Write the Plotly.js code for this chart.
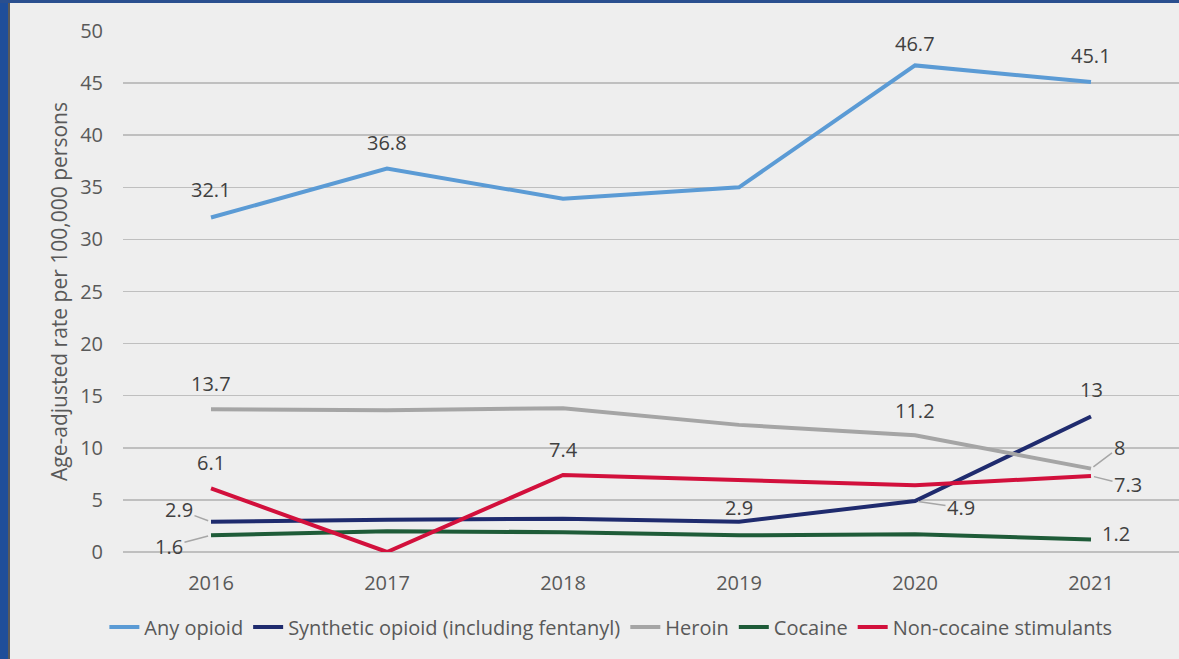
<!DOCTYPE html>
<html>
<head>
<meta charset="utf-8">
<script src="https://cdn.plot.ly/plotly-3.0.1.min.js"></script>
<style>
  html, body { margin: 0; padding: 0; background: #eeeeee; }
  #wrap { position: relative; width: 1179px; height: 659px; overflow: hidden; }
  #chart { position: absolute; left: 0; top: 0; width: 1179px; height: 659px; }
  #bl { position: absolute; left: 0; top: 0; width: 8px; height: 659px; background: #1f4e9a; }
  #bl2 { position: absolute; left: 8px; top: 0; width: 2px; height: 659px; background: #5a5a5a; }
  #bt { position: absolute; left: 0; top: 0; width: 1179px; height: 3px; background: #2a4f8f; }
</style>
</head>
<body>
<div id="wrap">
  <div id="chart"></div>
  <div id="bl"></div>
  <div id="bl2"></div>
  <div id="bt"></div>
</div>
<script>
// ---- data ----
const years = ["2016", "2017", "2018", "2019", "2020", "2021"];
const anyOpioid = [32.1, 36.8, 33.9, 35.0, 46.7, 45.1];
const syntheticOpioid = [2.9, 3.1, 3.2, 2.9, 4.9, 13];
const heroin = [13.7, 13.6, 13.8, 12.2, 11.2, 8];
const cocaine = [1.6, 2.0, 1.9, 1.6, 1.7, 1.2];
const nonCocaineStimulants = [6.1, 0, 7.4, 6.9, 6.4, 7.3];
const seriesNames = ["Any opioid", "Synthetic opioid (including fentanyl)", "Heroin", "Cocaine", "Non-cocaine stimulants"];
const yTicks = [0, 5, 10, 15, 20, 25, 30, 35, 40, 45, 50];

// ---- styling ----
const seriesData = [anyOpioid, syntheticOpioid, heroin, cocaine, nonCocaineStimulants];
const colors = ["#5b9bd5", "#1f2b6e", "#a5a5a5", "#1e5b38", "#d2103c"];
const FONT = "'Open Sans', sans-serif";
const FS = 20;

const traces = seriesData.map((vals, i) => ({
  x: years, y: vals, name: seriesNames[i], type: "scatter", mode: "lines",
  line: { color: colors[i], width: 4 }, hoverinfo: "skip"
}));

// label placements: [series, point index, dx, dy, leader]
const labelSpec = [
  [0, 0, 0, -28, false], [0, 1, 0, -26, false], [0, 4, 0, -22, false], [0, 5, 0, -27, false],
  [2, 0, 0, -26, false], [2, 4, 0, -25, false], [2, 5, 28, -21, true],
  [1, 0, -32, -12, true], [1, 3, 0, -14, false], [1, 4, 46, 7, true], [1, 5, 0, -27, false],
  [3, 0, -42, 11, true], [3, 5, 25, -6, false],
  [4, 0, 0, -26, false], [4, 2, 0, -25, false], [4, 5, 37, 9, true]
];

const annotations = labelSpec.map(([s, p, dx, dy, leader]) => {
  const a = {
    x: p, y: seriesData[s][p], xref: "x", yref: "y",
    text: String(seriesData[s][p]),
    font: { family: FONT, size: FS, color: "#404040" }
  };
  if (leader) {
    Object.assign(a, { showarrow: true, ax: dx, ay: dy, arrowhead: 0, arrowwidth: 1.5,
      arrowcolor: "#a6a6a6", standoff: 3 });
  } else {
    Object.assign(a, { showarrow: false, xshift: dx, yshift: -dy });
  }
  return a;
});

const layout = {
  width: 1179, height: 659,
  margin: { l: 123, r: 0, t: 31, b: 107 },
  paper_bgcolor: "#eeeeee", plot_bgcolor: "#eeeeee",
  font: { family: FONT, size: FS, color: "#595959" },
  showlegend: true,
  legend: { orientation: "h", x: 0.462, xanchor: "center", y: -0.144, yanchor: "middle",
    font: { family: FONT, size: FS, color: "#595959" }, bgcolor: "rgba(0,0,0,0)",
    itemwidth: 30, tracegroupgap: 0 },
  xaxis: { type: "category", range: [-0.5, 5.5], showgrid: false, zeroline: false,
    showline: false, ticks: "", ticklabelstandoff: 17,
    tickfont: { family: FONT, size: FS, color: "#595959" },
    fixedrange: true },
  yaxis: { range: [0, 50], tickvals: yTicks, showgrid: true, gridcolor: "#bfbfbf", gridwidth: 1.5,
    zeroline: true, zerolinecolor: "#bfbfbf", zerolinewidth: 1.5, showline: false, ticks: "",
    ticklabelstandoff: 19,
    tickfont: { family: FONT, size: FS, color: "#595959" },
    title: { text: "Age-adjusted rate per 100,000 persons", standoff: 6,
      font: { family: FONT, size: 21, color: "#595959" } },
    fixedrange: true },
  annotations: annotations
};

Plotly.newPlot("chart", traces, layout, { displayModeBar: false, staticPlot: true });
</script>
</body>
</html>
